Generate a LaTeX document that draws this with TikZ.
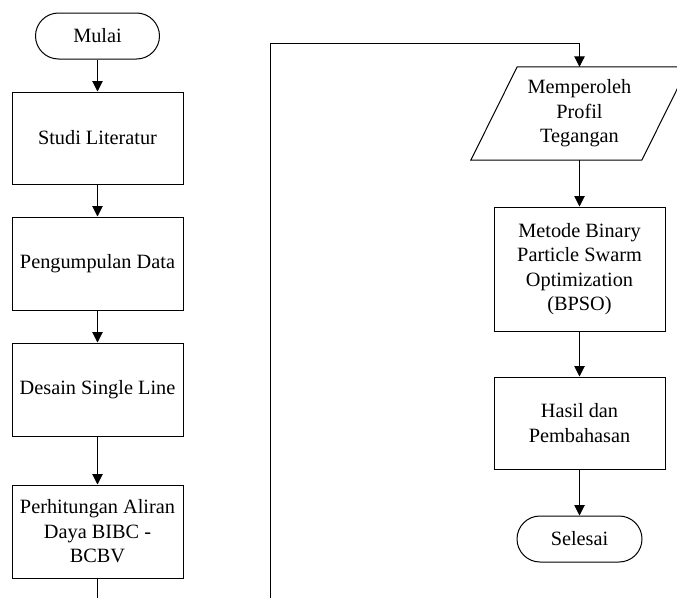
\documentclass[tikz,border=0pt]{standalone}
\usepackage{fontspec}
\setmainfont{Liberation Serif}
\usetikzlibrary{arrows.meta}
\begin{document}
\begin{tikzpicture}[x=1pt,y=-1pt,
  every node/.style={font=\fontsize{20.3}{24.5}\selectfont, align=center, inner sep=0pt},
  box/.style={draw, line width=1pt, minimum width=171pt},
  term/.style={draw, line width=1pt, rounded corners=23pt, minimum height=46pt},
  arr/.style={line width=1pt, -{Triangle[length=10.5pt,width=10.5pt]}}]
\fill[white] (0,0) rectangle (677,597);
\useasboundingbox (0,0) rectangle (677,597);
\clip (0,0) rectangle (677,597);
% left column
\node[term, minimum width=124pt] (mulai) at (97.5,36) {Mulai};
\node[box, minimum height=92pt] (s1) at (97.5,138) {Studi Literatur};
\node[box, minimum height=93pt] (s2) at (97.5,263.5) {Pengumpulan Data};
\node[box, minimum height=93pt] (s3) at (97.5,389.5) {Desain Single Line};
\node[box, minimum height=93pt] (s4) at (97.5,531.5) {Perhitungan Aliran\\Daya BIBC -\\BCBV};
% right column
\node[minimum width=217pt, minimum height=93pt] (para) at (579.5,113.5) {Memperoleh\\Profil\\Tegangan};
\draw[line width=1pt] (para.south west) -- ([xshift=171pt]para.south west) -- (para.north east) -- ([xshift=-171pt]para.north east) -- cycle;
\node[box, minimum height=124pt] (bpso) at (579.5,269) {Metode Binary\\Particle Swarm\\Optimization\\(BPSO)};
\node[box, minimum height=92pt] (hasil) at (579.5,423) {Hasil dan\\Pembahasan};
\node[term, minimum width=125pt] (selesai) at (579.5,539) {Selesai};
% connectors
\draw[arr] (mulai) -- (s1);
\draw[arr] (s1) -- (s2);
\draw[arr] (s2) -- (s3);
\draw[arr] (s3) -- (s4);
\coordinate (low) at (270,640);
\coordinate (top) at (270,43);
\draw[arr] (s4.south) |- (low) -- (top) -| (para.north);
\draw[arr] (para.south) -- (bpso.north);
\draw[arr] (bpso) -- (hasil);
\draw[arr] (hasil) -- (selesai);
\end{tikzpicture}
\end{document}
